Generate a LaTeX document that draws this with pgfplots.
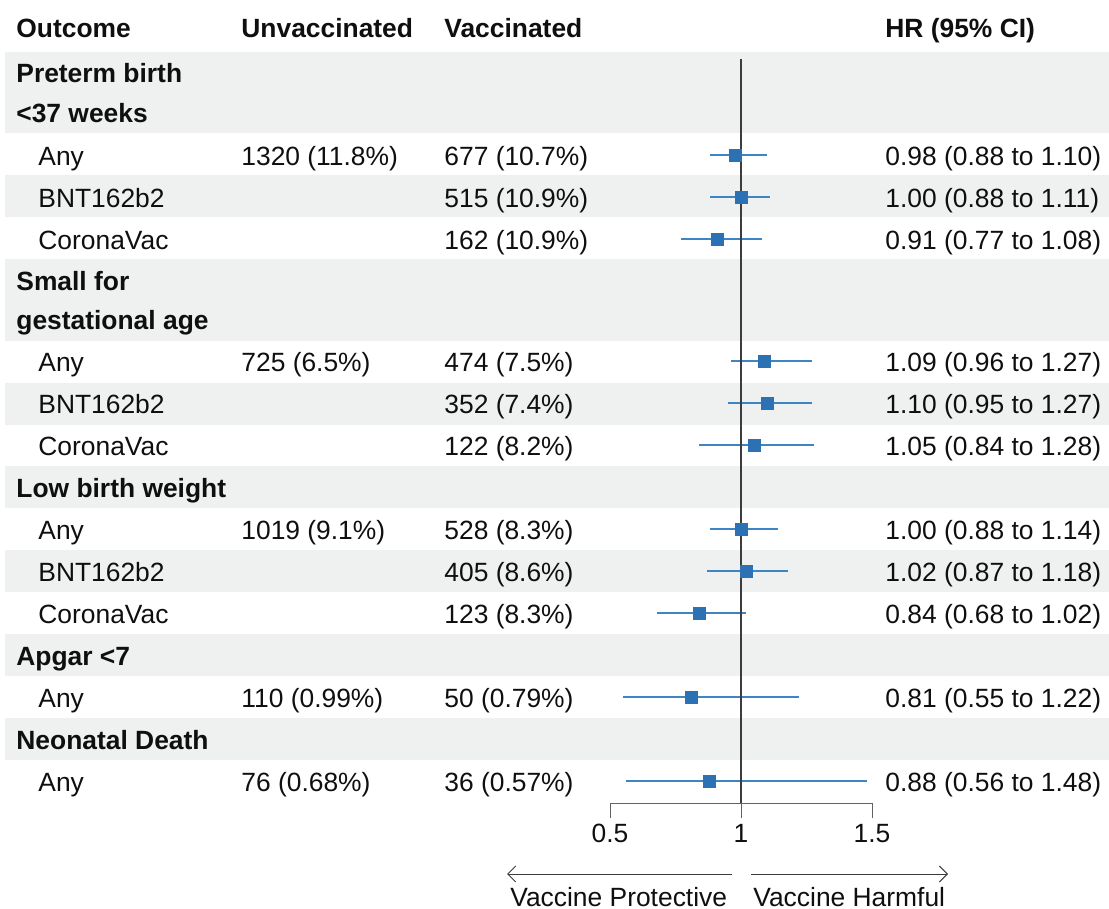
\documentclass[border=0pt]{standalone}
\usepackage{fontspec}
\setmainfont{Liberation Sans}
\usepackage{pgfplots}
\usepackage{pgfplotstable}
\pgfplotsset{compat=1.18}
\usetikzlibrary{arrows.meta}
\definecolor{band}{RGB}{238,241,240}
\definecolor{mblue}{RGB}{44,113,180}
\definecolor{lblue}{RGB}{62,133,198}
\definecolor{txt}{RGB}{15,15,15}
\definecolor{refl}{RGB}{60,60,60}
\newcommand\fs{\fontsize{13.2}{16}\selectfont}

\pgfplotstableread{
y hr lo hi
155 0.98 0.88 1.10
197 1.00 0.88 1.11
239 0.91 0.77 1.08
361 1.09 0.96 1.27
403 1.10 0.95 1.27
445 1.05 0.84 1.28
529 1.00 0.88 1.14
571 1.02 0.87 1.18
613 0.84 0.68 1.02
697 0.81 0.55 1.22
781 0.88 0.56 1.48
}\forestdata

\begin{document}
\begin{tikzpicture}[font=\fs, text=txt, t/.style={inner sep=0pt, anchor=base west, text=txt}]
% background / text axis in pixel units
\begin{axis}[
  scale only axis, width=554.5pt, height=454.5pt,
  xmin=0, xmax=1109, ymin=0, ymax=909, y dir=reverse,
  hide axis, clip=false,
]
\path (axis cs:0,0) rectangle (axis cs:1109,909);
\fill[band] (axis cs:5,52) rectangle (axis cs:1109,133);
\fill[band] (axis cs:5,175) rectangle (axis cs:1109,217);
\fill[band] (axis cs:5,259) rectangle (axis cs:1109,341);
\fill[band] (axis cs:5,383) rectangle (axis cs:1109,425);
\fill[band] (axis cs:5,466) rectangle (axis cs:1109,508);
\fill[band] (axis cs:5,550) rectangle (axis cs:1109,592);
\fill[band] (axis cs:5,634) rectangle (axis cs:1109,676);
\fill[band] (axis cs:5,718) rectangle (axis cs:1109,760);

% header
\node[t] at (axis cs:16,38) {\bfseries Outcome};
\node[t] at (axis cs:241,38) {\bfseries Unvaccinated};
\node[t] at (axis cs:444,38) {\bfseries Vaccinated};
\node[t] at (axis cs:885,38) {\bfseries HR (95\% CI)};

% group 1
\node[t] at (axis cs:16,83) {\bfseries Preterm birth};
\node[t] at (axis cs:16,123) {\bfseries <37 weeks};
\node[t] at (axis cs:38,165.5) {Any};
\node[t] at (axis cs:241,165.5) {1320 (11.8\%)};
\node[t] at (axis cs:444,165.5) {677 (10.7\%)};
\node[t] at (axis cs:885,165.5) {0.98 (0.88 to 1.10)};
\node[t] at (axis cs:38,207.5) {BNT162b2};
\node[t] at (axis cs:444,207.5) {515 (10.9\%)};
\node[t] at (axis cs:885,207.5) {1.00 (0.88 to 1.11)};
\node[t] at (axis cs:38,249.5) {CoronaVac};
\node[t] at (axis cs:444,249.5) {162 (10.9\%)};
\node[t] at (axis cs:885,249.5) {0.91 (0.77 to 1.08)};

% group 2
\node[t] at (axis cs:16,291) {\bfseries Small for};
\node[t] at (axis cs:16,330) {\bfseries gestational age};
\node[t] at (axis cs:38,371.5) {Any};
\node[t] at (axis cs:241,371.5) {725 (6.5\%)};
\node[t] at (axis cs:444,371.5) {474 (7.5\%)};
\node[t] at (axis cs:885,371.5) {1.09 (0.96 to 1.27)};
\node[t] at (axis cs:38,413.5) {BNT162b2};
\node[t] at (axis cs:444,413.5) {352 (7.4\%)};
\node[t] at (axis cs:885,413.5) {1.10 (0.95 to 1.27)};
\node[t] at (axis cs:38,455.5) {CoronaVac};
\node[t] at (axis cs:444,455.5) {122 (8.2\%)};
\node[t] at (axis cs:885,455.5) {1.05 (0.84 to 1.28)};

% group 3
\node[t] at (axis cs:16,497.5) {\bfseries Low birth weight};
\node[t] at (axis cs:38,539.5) {Any};
\node[t] at (axis cs:241,539.5) {1019 (9.1\%)};
\node[t] at (axis cs:444,539.5) {528 (8.3\%)};
\node[t] at (axis cs:885,539.5) {1.00 (0.88 to 1.14)};
\node[t] at (axis cs:38,581.5) {BNT162b2};
\node[t] at (axis cs:444,581.5) {405 (8.6\%)};
\node[t] at (axis cs:885,581.5) {1.02 (0.87 to 1.18)};
\node[t] at (axis cs:38,623.5) {CoronaVac};
\node[t] at (axis cs:444,623.5) {123 (8.3\%)};
\node[t] at (axis cs:885,623.5) {0.84 (0.68 to 1.02)};

% group 4
\node[t] at (axis cs:16,665) {\bfseries Apgar <7};
\node[t] at (axis cs:38,707.5) {Any};
\node[t] at (axis cs:241,707.5) {110 (0.99\%)};
\node[t] at (axis cs:444,707.5) {50 (0.79\%)};
\node[t] at (axis cs:885,707.5) {0.81 (0.55 to 1.22)};

% group 5
\node[t] at (axis cs:16,749) {\bfseries Neonatal Death};
\node[t] at (axis cs:38,791.5) {Any};
\node[t] at (axis cs:241,791.5) {76 (0.68\%)};
\node[t] at (axis cs:444,791.5) {36 (0.57\%)};
\node[t] at (axis cs:885,791.5) {0.88 (0.56 to 1.48)};

% arrows
\draw[refl, line width=0.5pt, -{Straight Barb[length=4pt,width=8pt]}] (axis cs:732,874) -- (axis cs:507,874);
\draw[refl, line width=0.5pt, -{Straight Barb[length=4pt,width=8pt]}] (axis cs:751,874) -- (axis cs:948,874);
\node[t] at (axis cs:510,906) {Vaccine Protective};
\node[t] at (axis cs:753,906) {Vaccine Harmful};
\end{axis}

% forest axis in HR units
\begin{axis}[
  scale only axis, width=554.5pt, height=454.5pt,
  xmin=-1.82824, xmax=2.40458, ymin=0, ymax=909, y dir=reverse,
  hide axis, clip=false,
]
\addplot[only marks, mark=square*, mark size=3pt, color=mblue,
  error bars/.cd, x dir=both, x explicit, error mark=none,
  error bar style={line width=0.9pt, color=lblue}]
  table[x=hr, y=y,
        x error plus expr=\thisrow{hi}-\thisrow{hr},
        x error minus expr=\thisrow{hr}-\thisrow{lo}] {\forestdata};
\draw[refl, line width=0.8pt] (axis cs:1,59) -- (axis cs:1,803);
% x axis
\draw[refl!80, line width=0.5pt] (axis cs:0.5,818) -- (axis cs:0.5,803) -- (axis cs:1.5,803) -- (axis cs:1.5,818);
\draw[refl!80, line width=0.5pt] (axis cs:1,803) -- (axis cs:1,818);
\node[inner sep=0pt, anchor=base, text=txt] at (axis cs:0.5,842) {0.5};
\node[inner sep=0pt, anchor=base, text=txt] at (axis cs:1,842) {1};
\node[inner sep=0pt, anchor=base, text=txt] at (axis cs:1.5,842) {1.5};
\end{axis}
\end{tikzpicture}
\end{document}
